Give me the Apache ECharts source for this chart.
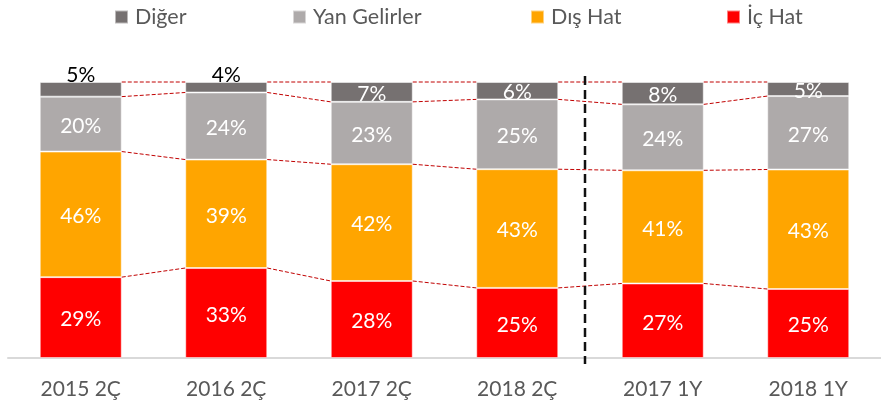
<!DOCTYPE html>
<html>
<head>
<meta charset="utf-8">
<script src="https://cdn.jsdelivr.net/npm/echarts@6/dist/echarts.min.js"></script>
<style>
  html, body { margin: 0; padding: 0; background: #fff; }
  #chart { width: 881px; height: 405px; }
</style>
</head>
<body>
<div id="chart"></div>
<script>
// kategoriler ve paylar (%)
const categories = ['2015 2Ç', '2016 2Ç', '2017 2Ç', '2018 2Ç', '2017 1Y', '2018 1Y'];
const icHat = [29.3, 32.6, 27.9, 25.4, 27.0, 25.0];
const disHat = [45.5, 39.3, 42.3, 43.0, 41.0, 43.3];
const yanGelirler = [19.9, 24.3, 22.6, 25.3, 23.9, 26.6];
const diger = [5.3, 3.8, 7.2, 6.3, 8.1, 5.1];
const legendNames = ['Diğer', 'Yan Gelirler', 'Dış Hat', 'İç Hat'];

const FONT = 'Lato, "Open Sans", sans-serif';
const BAR_W = 82;
const legendLeft = [109, 287, 525, 721];

// kümülatif seviyeler (bağlantı çizgileri için)
const levels = [];
let run = categories.map(() => 0);
[icHat, disHat, yanGelirler, diger].forEach(arr => {
  run = run.map((v, i) => v + arr[i]);
  levels.push(run.slice());
});
const connectors = [];
for (let i = 0; i < categories.length - 1; i++) {
  levels.forEach(lv => connectors.push([i, lv[i], lv[i + 1]]));
}

const label = {
  show: true,
  position: 'inside',
  color: '#fff',
  fontSize: 21,
  fontFamily: FONT,
  offset: [0, 2],
  formatter: p => Math.round(p.value) + '%'
};

function barSeries(name, values, color) {
  return {
    name: name,
    type: 'bar',
    stack: 'total',
    barWidth: BAR_W,
    data: values,
    itemStyle: { color: color, borderColor: 'rgba(255,255,255,0.5)', borderWidth: 1 },
    label: label,
    z: 2
  };
}

// Diğer: ilk iki sütunda etiket sütunun üstünde, siyah
const digerData = diger.map((v, i) => i < 2
  ? { value: v, label: { position: 'top', distance: -4, offset: [0, 0], color: '#000' } }
  : v);

var myChart = echarts.init(document.getElementById('chart'));
var option = {
  animation: false,
  textStyle: { fontFamily: FONT },
  legend: legendNames.map((name, i) => ({
    data: [name],
    top: 1,
    left: legendLeft[i],
    itemWidth: 13,
    itemHeight: 13,
    icon: 'rect',
    textStyle: { color: '#595959', fontSize: 21.5, fontFamily: FONT, padding: [0, 0, 0, 2] }
  })),
  grid: { left: 8, right: -6, top: 82, bottom: 47 },
  xAxis: {
    type: 'category',
    data: categories,
    axisLine: { lineStyle: { color: '#D9D9D9', width: 2 } },
    axisTick: { show: false },
    axisLabel: { color: '#595959', fontSize: 21, fontFamily: FONT, margin: 21 }
  },
  yAxis: { type: 'value', min: 0, max: 100, show: false },
  series: [
    barSeries('İç Hat', icHat, '#FF0000'),
    barSeries('Dış Hat', disHat, '#FFA500'),
    barSeries('Yan Gelirler', yanGelirler, '#AEAAAA'),
    Object.assign(barSeries('Diğer', diger, '#767171'), { data: digerData }),
    {
      // kırmızı kesikli bağlantı çizgileri
      type: 'custom',
      data: connectors,
      encode: { x: 0, y: 1 },
      silent: true,
      z: 3,
      renderItem: function (params, api) {
        const i = api.value(0);
        const a = api.coord([i, api.value(1)]);
        const b = api.coord([i + 1, api.value(2)]);
        return {
          type: 'line',
          shape: { x1: a[0] + BAR_W / 2, y1: a[1], x2: b[0] - BAR_W / 2, y2: b[1] },
          style: { stroke: '#C00000', lineWidth: 1, lineDash: [4, 2] }
        };
      }
    },
    {
      // 2Ç ve 1Y arasındaki ayraç
      type: 'custom',
      data: [[3, 0]],
      encode: { x: 0, y: 1 },
      silent: true,
      z: 4,
      renderItem: function (params, api) {
        const a = api.coord([3, 0]);
        const b = api.coord([4, 100]);
        const x = (a[0] + b[0]) / 2 - 5;
        return {
          type: 'line',
          shape: { x1: x, y1: b[1] - 6, x2: x, y2: a[1] + 6 },
          style: { stroke: '#111', lineWidth: 2.5, lineDash: [9, 5] }
        };
      }
    }
  ]
};
// 使用刚指定的配置项和数据显示图表。
myChart.setOption(option);
</script>
</body>
</html>
